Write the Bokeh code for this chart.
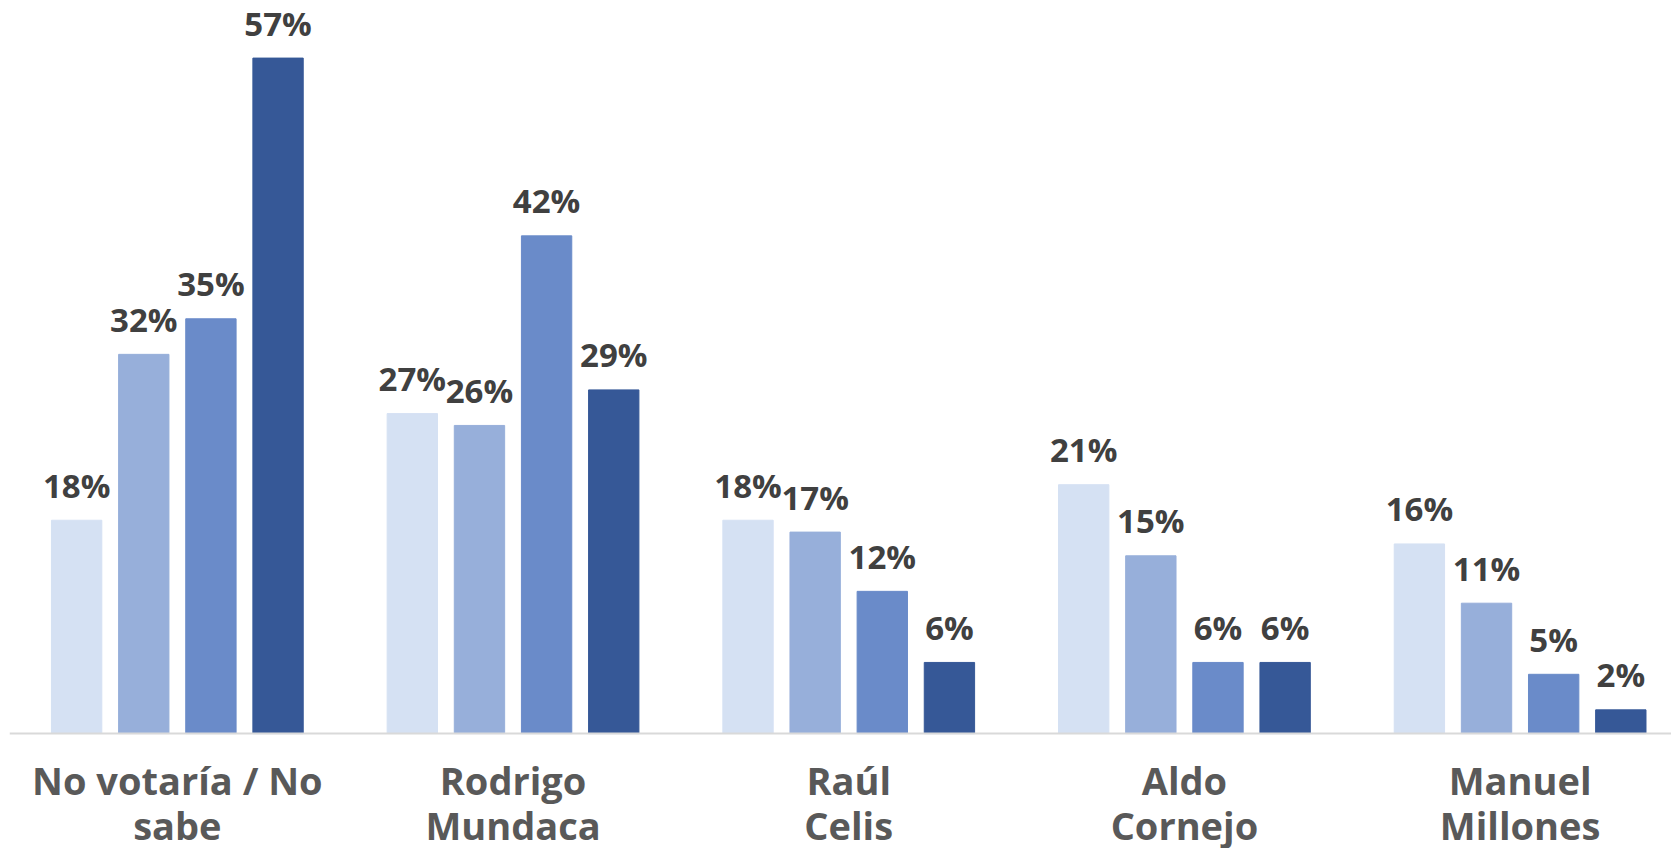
from bokeh.plotting import figure
from bokeh.models import ColumnDataSource, Range1d
from bokeh.core.properties import value
from bokeh.embed import file_html
from bokeh.resources import INLINE

categories = ["No votaría / No\nsabe", "Rodrigo\nMundaca", "Raúl\nCelis", "Aldo\nCornejo", "Manuel\nMillones"]
series_a = [18, 27, 18, 21, 16]
series_b = [32, 26, 17, 15, 11]
series_c = [35, 42, 12, 6, 5]
series_d = [57, 29, 6, 6, 2]
colors = ["#D5E1F3", "#97AFDA", "#6A8BC9", "#365897"]
offsets = [-0.3, -0.1, 0.1, 0.3]

FONT = "Open Sans"
n = len(categories)

p = figure(width=1671, height=848, output_backend="svg", toolbar_location=None,
           x_range=Range1d(-0.5, 4.451), y_range=Range1d(-9.70, 61.86),
           min_border_left=9, min_border_right=0, min_border_top=0, min_border_bottom=0)

for series, col, off in zip([series_a, series_b, series_c, series_d], colors, offsets):
    xs = [i + off for i in range(n)]
    src = ColumnDataSource(dict(x=xs, top=series, lab=[f"{v}%" for v in series]))
    p.vbar(x="x", top="top", bottom=0, width=0.15, color=col, source=src)
    p.text(x="x", y="top", text="lab", source=src, text_align="center",
           text_baseline="alphabetic", y_offset=-35, text_font=value(FONT),
           text_font_style="bold", text_font_size="33px", text_color="#404040")

# category axis: baseline and labels
p.segment(x0=[-0.5], y0=[0], x1=[n - 0.5], y1=[0], line_color="#D9D9D9", line_width=2)
cat_src = ColumnDataSource(dict(x=list(range(n)), y=[0] * n, lab=categories))
p.text(x="x", y="y", text="lab", source=cat_src, text_align="center",
       text_baseline="middle", y_offset=69, text_font=value(FONT),
       text_font_style="bold", text_font_size="38px", text_line_height=0.87,
       text_color="#595959")

p.xaxis.visible = False
p.yaxis.visible = False
p.xgrid.grid_line_color = None
p.ygrid.grid_line_color = None
p.outline_line_color = None

open("out.html", "w").write(file_html(p, INLINE))
